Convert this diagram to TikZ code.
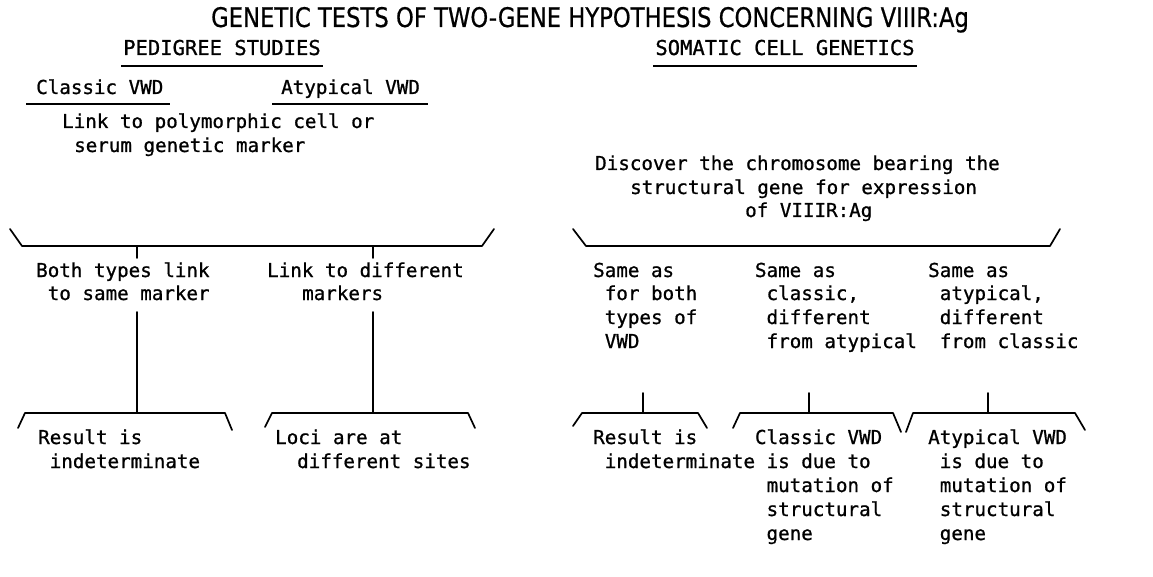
\documentclass[tikz,border=0pt]{standalone}
\usepackage{fontspec}
\setmainfont[FakeBold=0.9]{DejaVu Sans Mono}
\newfontfamily\headfont[FakeStretch=0.84,FakeBold=0.6]{DejaVu Sans}
\begin{document}
\begin{tikzpicture}[x=1pt,y=-1pt,
  txt/.style={anchor=base west,inner sep=0pt,font=\fontsize{19.2}{23}\selectfont},
  hd/.style={anchor=base,inner sep=0pt,font=\fontsize{20.5}{24}\selectfont},
  rule/.style={line width=1.7pt,line join=round,line cap=round},
  uline/.style={line width=1.5pt},
]
\useasboundingbox (0,0) rectangle (1153,577);

% headings
\node[anchor=base,inner sep=0pt,font=\headfont\fontsize{27}{30}\selectfont] (title) at (590,27)
  {GENETIC TESTS OF TWO-GENE HYPOTHESIS CONCERNING VIIIR:Ag};
\node[hd] (ped) at (222,55) {PEDIGREE STUDIES};
\node[hd] (som) at (785,55) {SOMATIC CELL GENETICS};
\draw[uline] ([xshift=-2pt,yshift=-11pt]ped.base west) -- ([xshift=2pt,yshift=-11pt]ped.base east);
\draw[uline] ([xshift=-2pt,yshift=-11pt]som.base west) -- ([xshift=2pt,yshift=-11pt]som.base east);

% pedigree studies
\node[txt] (cls) at (36,94) {Classic VWD};
\node[txt] (aty) at (281,94) {Atypical VWD};
\draw[uline] ([xshift=-10pt,yshift=-10pt]cls.base west) -- ([xshift=6pt,yshift=-10pt]cls.base east);
\draw[uline] ([xshift=-9pt,yshift=-10pt]aty.base west) -- ([xshift=8pt,yshift=-10pt]aty.base east);
\node[txt] (lk1) at (62,128) {Link to polymorphic cell or};
\node[txt] (lk2) at (74,152) {serum genetic marker};

\coordinate (lbA) at (10,229);
\coordinate (lbB) at (22,246);
\coordinate (lbC) at (482,246);
\coordinate (lbD) at (494,229);
\draw[rule] (lbA) -- (lbB) -- (lbC) -- (lbD);
\coordinate (lt1) at (137,246);
\coordinate (lt2) at (373,246);
\coordinate (lt1e) at (137,258);
\coordinate (lt2e) at (373,258);
\draw[rule] (lt1) -- (lt1e);
\draw[rule] (lt2) -- (lt2e);

\node[txt] (bt1) at (36,277) {Both types link};
\node[txt] (bt2) at (47.6,300) {to same marker};
\node[txt] (ld1) at (267,277) {Link to different};
\node[txt] (ld2) at (302,300) {markers};

\coordinate (v1a) at (137,312);
\coordinate (v1b) at (137,413);
\coordinate (v2a) at (373,312);
\coordinate (v2b) at (373,413);
\draw[rule] (v1a) -- (v1b);
\draw[rule] (v2a) -- (v2b);

\draw[rule] (18,428) -- (25,413) -- (v1b) -- (225,413) -- (232,430);
\draw[rule] (265,427) -- (272,413) -- (v2b) -- (468,413) -- (475,428);

\node[txt] (ri1) at (38,444) {Result is};
\node[txt] (ri2) at (49.6,468) {indeterminate};
\node[txt] (lo1) at (275,444) {Loci are at};
\node[txt] (lo2) at (297,468) {different sites};

% somatic cell genetics
\node[txt] (dc1) at (595,170) {Discover the chromosome bearing the};
\node[txt] (dc2) at (630,194) {structural gene for expression};
\node[txt] (dc3) at (745,217) {of VIIIR:Ag};

\coordinate (rbA) at (573,229);
\coordinate (rbB) at (586,246);
\coordinate (rbC) at (1050,246);
\coordinate (rbD) at (1060,229);
\draw[rule] (rbA) -- (rbB) -- (rbC) -- (rbD);

\node[txt] (sa1) at (593,277) {Same as};
\node[txt] (sa2) at (604.6,300) {for both};
\node[txt] (sa3) at (604.6,324) {types of};
\node[txt] (sa4) at (604.6,348) {VWD};

\node[txt] (sb1) at (754.8,277) {Same as};
\node[txt] (sb2) at (766.4,300) {classic,};
\node[txt] (sb3) at (766.4,324) {different};
\node[txt] (sb4) at (766.4,348) {from atypical};

\node[txt] (sc1) at (928,277) {Same as};
\node[txt] (sc2) at (939.6,300) {atypical,};
\node[txt] (sc3) at (939.6,324) {different};
\node[txt] (sc4) at (939.6,348) {from classic};

\coordinate (w1a) at (643,393);
\coordinate (w1b) at (643,413);
\coordinate (w2a) at (809,393);
\coordinate (w2b) at (809,413);
\coordinate (w3a) at (988,393);
\coordinate (w3b) at (988,413);
\draw[rule] (w1a) -- (w1b);
\draw[rule] (w2a) -- (w2b);
\draw[rule] (w3a) -- (w3b);

\draw[rule] (573,426) -- (582,413) -- (w1b) -- (698,413) -- (707,428);
\draw[rule] (733,428) -- (740,413) -- (w2b) -- (893,413) -- (901,432);
\draw[rule] (906,432) -- (913,413) -- (w3b) -- (1075,413) -- (1085,430);

\node[txt] (rr1) at (593,444) {Result is};
\node[txt] (rr2) at (604.6,468) {indeterminate};

\node[txt] (cv1) at (754.8,444) {Classic VWD};
\node[txt] (cv2) at (766.4,468) {is due to};
\node[txt] (cv3) at (766.4,492) {mutation of};
\node[txt] (cv4) at (766.4,516) {structural};
\node[txt] (cv5) at (766.4,540) {gene};

\node[txt] (av1) at (928,444) {Atypical VWD};
\node[txt] (av2) at (939.6,468) {is due to};
\node[txt] (av3) at (939.6,492) {mutation of};
\node[txt] (av4) at (939.6,516) {structural};
\node[txt] (av5) at (939.6,540) {gene};
\end{tikzpicture}
\end{document}
